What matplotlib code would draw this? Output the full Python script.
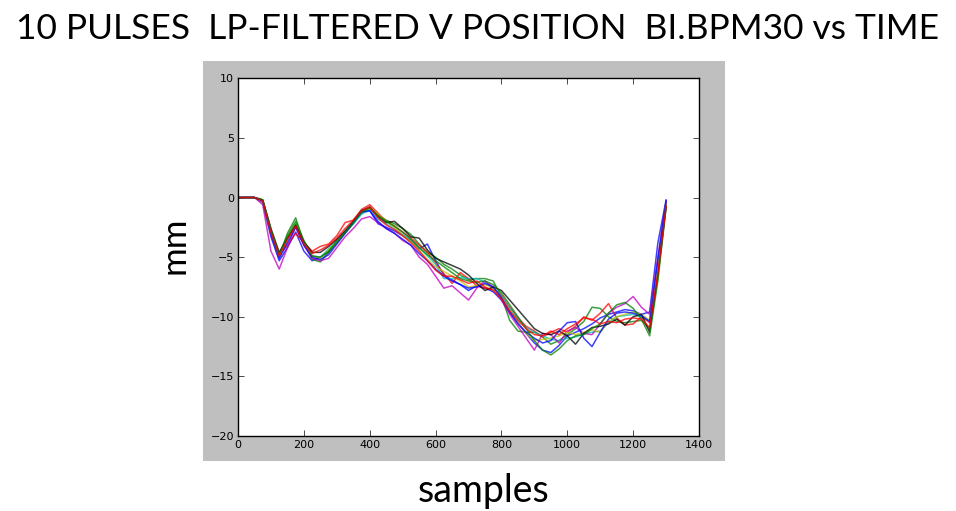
import numpy as np
import matplotlib
matplotlib.use('Agg')
import matplotlib.pyplot as plt
import matplotlib.patches as pc

# Data: 10 LP-filtered vertical position pulses, every 25 samples

samples = np.arange(0, 1301, 25)

pulse_b1 = [0, 0, 0, -0.4, -3.3, -5.3, -4.2, -2.9, -4.5, -5.3, -5.0, -4.6, -3.6, -2.9, -2.1, -1.3, -1.1,
            -2.2, -2.5, -2.8, -3.2, -3.6, -4.3, -3.9, -5.3, -6.5, -6.9, -7.3, -7.8, -7.4, -7.6, -7.9,
            -8.6, -9.6, -10.5, -11.4, -12.2, -12.8, -13.0, -12.4, -11.6, -11.3, -11.0, -10.6, -10.1,
            -9.8, -9.6, -9.4, -9.5, -9.8, -9.6, -3.8, -0.2]
pulse_g1 = [0, 0, 0, -0.2, -2.8, -4.9, -3.0, -1.7, -3.8, -5.2, -5.4, -4.6, -3.8, -3.0, -2.2, -1.3, -0.8,
            -1.5, -1.9, -2.2, -2.6, -3.1, -3.9, -4.6, -5.0, -5.6, -6.0, -6.5, -6.9, -6.8, -6.8, -7.0,
            -8.3, -10.3, -11.2, -11.3, -11.3, -11.7, -12.3, -12.0, -11.5, -11.0, -10.4, -9.2, -9.3,
            -10.0, -10.4, -10.5, -10.4, -10.3, -11.0, -6.2, -0.6]
pulse_r1 = [0, 0, 0, -0.3, -2.9, -4.8, -4.0, -3.0, -3.8, -4.5, -4.1, -3.9, -3.2, -2.1, -1.9, -1.0, -0.6,
            -1.3, -2.0, -2.4, -2.9, -3.4, -4.0, -4.6, -5.5, -6.4, -7.2, -6.3, -6.8, -7.4, -7.6, -7.7,
            -8.2, -9.2, -10.1, -10.8, -11.2, -11.7, -11.3, -11.0, -11.3, -10.8, -10.0, -10.3, -9.7,
            -8.9, -10.1, -10.7, -10.6, -10.0, -10.5, -6.0, -0.5]
pulse_c = [0, 0, 0, -0.3, -3.0, -5.0, -3.6, -2.2, -3.9, -4.9, -5.0, -4.3, -3.6, -2.9, -2.2, -1.4, -1.0,
           -1.8, -2.2, -2.6, -3.1, -3.6, -4.2, -4.9, -5.6, -6.8, -6.8, -6.7, -6.8, -6.8, -7.1, -7.6,
           -8.3, -9.3, -10.2, -10.9, -11.3, -11.6, -11.9, -12.0, -11.8, -11.7, -11.4, -11.3, -11.2,
           -10.5, -10.0, -9.9, -9.8, -10.0, -10.3, -5.6, -0.4]
pulse_m = [0, 0, 0, -0.6, -4.5, -6.0, -4.2, -2.4, -4.0, -5.1, -5.3, -5.1, -4.2, -3.3, -2.6, -1.8, -1.6,
           -2.1, -2.6, -3.0, -3.6, -4.0, -5.0, -5.6, -6.6, -7.6, -7.4, -8.0, -8.6, -7.6, -7.0, -7.5,
           -8.6, -9.8, -10.8, -11.8, -12.8, -11.4, -11.5, -12.2, -11.2, -10.9, -11.4, -11.5, -10.6,
           -9.7, -9.2, -8.9, -8.3, -9.2, -9.8, -5.0, -0.3]
pulse_y = [0, 0, 0, -0.3, -3.0, -5.0, -3.4, -2.2, -3.8, -4.9, -5.1, -4.4, -3.7, -2.9, -2.0, -1.2, -0.9,
           -1.4, -2.0, -2.5, -3.2, -3.7, -4.4, -5.2, -5.8, -6.2, -6.6, -7.0, -7.5, -7.4, -7.3, -7.6,
           -8.4, -9.5, -10.5, -11.4, -12.0, -11.9, -11.8, -11.6, -11.3, -11.5, -11.3, -11.1, -11.3,
           -10.4, -10.0, -9.8, -9.6, -9.8, -10.3, -5.8, -0.5]
pulse_k = [0, 0, 0, -0.2, -2.6, -4.6, -3.4, -2.3, -3.7, -4.6, -4.6, -4.1, -3.5, -2.8, -2.0, -1.1, -0.8,
           -1.6, -2.1, -2.0, -2.6, -3.3, -3.4, -4.4, -5.1, -5.4, -5.7, -6.0, -6.5, -7.2, -7.8, -7.5,
           -7.8, -8.6, -9.4, -10.2, -11.0, -11.4, -11.5, -11.2, -11.6, -12.3, -11.4, -10.9, -10.8,
           -10.6, -10.2, -10.7, -10.0, -9.8, -11.3, -6.6, -0.8]
pulse_b2 = [0, 0, 0, -0.3, -3.1, -5.1, -3.8, -2.5, -4.0, -5.0, -5.2, -4.8, -3.9, -3.0, -2.1, -1.2, -1.1,
            -2.0, -2.6, -3.0, -3.5, -4.0, -4.7, -5.3, -6.0, -6.6, -7.0, -7.3, -7.6, -7.5, -7.2, -7.5,
            -8.4, -9.6, -10.6, -11.3, -11.8, -12.2, -12.0, -11.2, -10.5, -10.4, -11.8, -12.5, -11.3,
            -10.2, -9.7, -9.6, -9.7, -9.9, -10.4, -5.2, -0.3]
pulse_g2 = [0, 0, 0, -0.2, -2.7, -4.8, -3.2, -2.0, -3.6, -4.9, -5.0, -4.5, -3.7, -2.9, -2.1, -1.2, -0.9,
            -1.5, -2.0, -2.4, -2.9, -3.5, -4.2, -4.8, -5.3, -5.8, -6.3, -6.8, -7.0, -7.1, -7.0, -7.3,
            -8.0, -9.0, -10.0, -11.0, -12.0, -12.8, -13.2, -12.7, -12.0, -11.6, -11.5, -11.0, -10.6,
            -9.7, -9.0, -8.8, -9.3, -10.2, -11.6, -7.0, -0.8]
pulse_r2 = [0, 0, 0, -0.3, -2.9, -4.9, -3.5, -2.4, -3.9, -4.7, -4.4, -4.0, -3.4, -2.6, -1.9, -1.1, -0.8,
            -1.7, -2.3, -2.7, -3.2, -3.8, -4.5, -5.3, -6.1, -6.6, -6.6, -6.9, -7.2, -7.0, -7.5, -7.8,
            -8.5, -9.5, -10.3, -11.0, -11.5, -11.6, -11.2, -11.5, -11.0, -10.6, -10.1, -10.2, -10.6,
            -10.4, -10.5, -10.2, -10.1, -10.2, -10.9, -6.4, -0.7]

pulses = [pulse_b1, pulse_g1, pulse_r1, pulse_c, pulse_m, pulse_y, pulse_k, pulse_b2, pulse_g2, pulse_r2]
colors = ['b', 'g', 'r', 'c', 'm', 'y', 'k', 'b', 'g', 'r']   # old matplotlib colour cycle

# --------------------------------------------------------------------------------------------------

fig = plt.figure(figsize = (9.56, 5.11), dpi = 100, facecolor = 'white')

# grey background of the embedded (classic style) figure
fig.patches.append(pc.Rectangle((0.2123, 0.0978), 0.5461, 0.7828, transform = fig.transFigure,
                                facecolor = '#bfbfbf', edgecolor = 'none', zorder = -5))

ax = fig.add_axes([0.249, 0.1468, 0.4822, 0.7000])
ax.set_zorder(1)
for p, c in zip(pulses, colors):
    ax.plot(samples, p, color = c, linewidth = 1.1, alpha = 0.75)

ax.set_xlim(0, 1400)
ax.set_ylim(-20, 10)
ax.set_xticks(np.arange(0, 1401, 200))
ax.set_yticks(np.arange(-20, 11, 5))
ax.tick_params(direction = 'in', top = True, right = True, labelsize = 8, length = 4, width = 0.5, pad = 3)
for s in ax.spines.values():
    s.set_linewidth(1.0)

# --------------------------------------------------------------------------------------------------

# Slide texts

title_font = ['Lato', 'DejaVu Sans']
fig.text(0.5, 0.943, '10 PULSES  LP-FILTERED V POSITION  BI.BPM30 vs TIME', ha = 'center',
         va = 'center', fontsize = 25.5, family = title_font, weight = 'normal', color = 'black')
fig.text(0.183, 0.520, 'mm', ha = 'center', va = 'center', rotation = 90, fontsize = 25,
         family = title_font, weight = 'normal', color = 'black')
fig.text(0.506, 0.040, 'samples', ha = 'center', va = 'center', fontsize = 27,
         family = title_font, weight = 'normal', color = 'black')

plt.savefig('out.png', dpi = 100)
